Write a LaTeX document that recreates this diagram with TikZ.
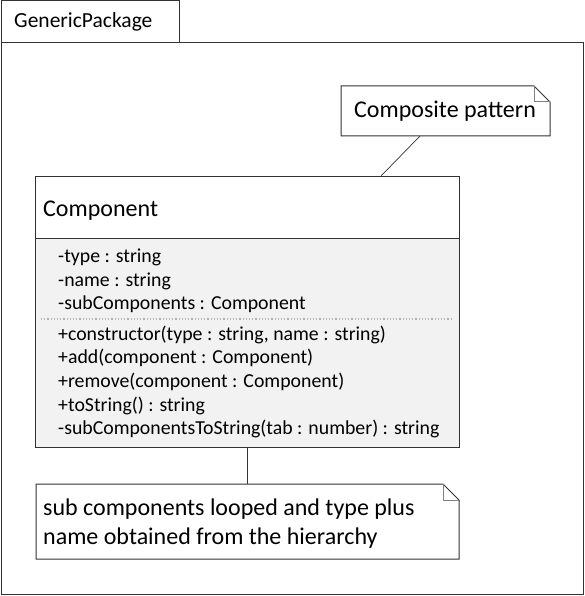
\documentclass[tikz,border=0pt]{standalone}
\usepackage{fontspec}
\setmainfont{Carlito}
\begin{document}
\begin{tikzpicture}[x=1pt,y=-1pt,
  ln/.style={draw=black!80,line width=1pt},
  txt/.style={anchor=base west,inner sep=0pt,font=\fontsize{19.8}{23}\selectfont},
  bigtxt/.style={anchor=base west,inner sep=0pt,font=\fontsize{24}{28}\selectfont}]
\useasboundingbox (0,0) rectangle (585,596);
% package
\draw[ln] (1,1) rectangle (179,43);
\draw[ln] (1,43) rectangle (583,594);
\node[txt,font=\fontsize{21.5}{25}\selectfont] (pkg) at (14,28) {GenericPackage};
% note 1
\draw[ln,fill=white] (341,86) -- (534,86) -- (550,102) -- (550,136) -- (341,136) -- cycle;
\draw[draw=black!50,line width=1pt] (534,86) -- (534,102) -- (550,102);
\node[bigtxt] (n1) at (354,118) {Composite pattern};
\coordinate (n1b) at (420,136);
% class
\fill[black!5] (35,238) rectangle (459,447);
\draw[ln] (35,176) rectangle (459,447);
\draw[ln] (35,238) -- (459,238);
\draw[draw=black!30,line width=1.2pt,dotted] (41,319) -- (453,319);
\node[bigtxt] (cname) at (43,216) {Component};
\coordinate (ctop) at (381,176);
\coordinate (cbot) at (247,447);
\node[txt] (a1) at (58,262) {-type : string};
\node[txt] (a2) at (58,286) {-name : string};
\node[txt] (a3) at (58,309) {-subComponents : Component};
\node[txt] (m1) at (58,340) {+constructor(type : string, name : string)};
\node[txt] (m2) at (58,363) {+add(component : Component)};
\node[txt] (m3) at (58,387) {+remove(component : Component)};
\node[txt] (m4) at (58,411) {+toString() : string};
\node[txt] (m5) at (58,434) {-subComponentsToString(tab : number) : string};
% note 2
\draw[ln,fill=white] (36,484) -- (443,484) -- (459,500) -- (459,559) -- (36,559) -- cycle;
\draw[draw=black!50,line width=1pt] (443,484) -- (443,500) -- (459,500);
\node[bigtxt] (n2a) at (43,515) {sub components looped and type plus};
\node[bigtxt] (n2b) at (43,544) {name obtained from the hierarchy};
\coordinate (n2t) at (247,484);
% connectors
\draw[black!80,line width=0.7pt] (n1b) -- (ctop);
\draw[black!80,line width=0.7pt] (cbot) -- (n2t);
\end{tikzpicture}
\end{document}
